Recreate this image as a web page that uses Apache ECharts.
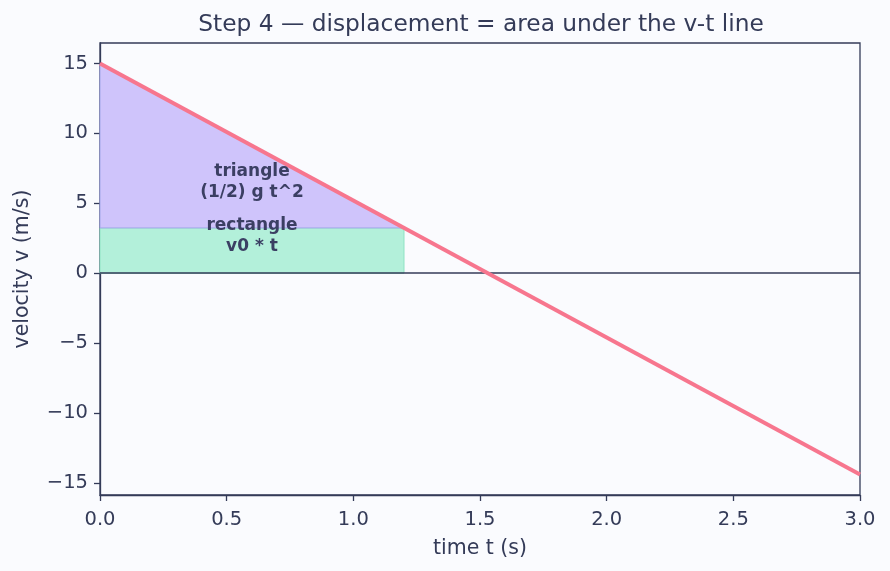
<!DOCTYPE html>
<html>
<head>
<meta charset="utf-8">
<script src="https://cdn.jsdelivr.net/npm/echarts@6/dist/echarts.min.js"></script>
<style>
  html, body { margin: 0; padding: 0; background: #fafbfe; }
  #chart { width: 890px; height: 571px; }
</style>
</head>
<body>
<div id="chart"></div>
<script>
// v-t line: v = v0 - g t
var lineT = [0, 3];
var lineV = [15, -14.4];
// area split at t = 1.2
var triangleT = [0, 1.2, 0];
var triangleV = [15, 3.24, 3.24];
var rectT = [0, 1.2, 1.2, 0];
var rectV = [0, 0, 3.24, 3.24];
var yTicks = [-15, -10, -5, 0, 5, 10, 15];
var labels = [
    { t: 0.6, v: 6.5, text: 'triangle\n(1/2) g t^2' },
    { t: 0.6, v: 2.65, text: 'rectangle\nv0 * t' }
];

var ink = '#343b58';
var font = 'DejaVu Sans';

function polySeries(ts, vs, fill, edge, z) {
    return {
        type: 'custom',
        z: z,
        silent: true,
        data: [0],
        renderItem: function (params, api) {
            var pts = ts.map(function (t, i) { return api.coord([t, vs[i]]); });
            return {
                type: 'polygon',
                shape: { points: pts },
                style: { fill: fill, stroke: edge, lineWidth: 1 }
            };
        }
    };
}

var chart = echarts.init(document.getElementById('chart'));
chart.setOption({
    backgroundColor: '#fafbfe',
    animation: false,
    title: {
        text: 'Step 4 \u2014 displacement = area under the v-t line',
        left: 476, top: 8, textAlign: 'center',
        textStyle: { fontFamily: font, fontSize: 23.3, fontWeight: 'normal', color: ink }
    },
    grid: {
        left: 100, right: 30, top: 43, bottom: 76,
        show: true, borderColor: ink, borderWidth: 1.3, backgroundColor: 'transparent'
    },
    xAxis: {
        type: 'value', min: 0, max: 3, interval: 0.5,
        name: 'time t (s)', nameLocation: 'middle', nameGap: 43,
        nameTextStyle: { fontFamily: font, fontSize: 20.5, color: ink },
        axisLine: { onZero: false, lineStyle: { color: ink, width: 1.3 } },
        axisTick: { show: true, length: 6, lineStyle: { color: ink, width: 1.3 } },
        axisLabel: {
            fontFamily: font, fontSize: 19.5, color: ink, margin: 15,
            formatter: function (v) { return v.toFixed(1); }
        },
        splitLine: { show: false }
    },
    yAxis: {
        type: 'value', min: -15.87, max: 16.47,
        name: 'velocity v (m/s)', nameLocation: 'middle', nameGap: 67,
        nameTextStyle: { fontFamily: font, fontSize: 20.5, color: ink },
        axisLine: { show: true, onZero: false, lineStyle: { color: ink, width: 1.3 } },
        axisTick: { show: true, length: 6, customValues: yTicks, lineStyle: { color: ink, width: 1.3 } },
        axisLabel: {
            fontFamily: font, fontSize: 19.5, color: ink, margin: 12,
            customValues: yTicks,
            formatter: function (v) { return String(v).replace('-', '\u2212'); }
        },
        splitLine: { show: false }
    },
    series: [
        polySeries(rectT, rectV, '#b3f0da', '#8fe3c4', 1),
        polySeries(triangleT, triangleV, '#cfc4fb', '#a3a7ea', 2),
        {
            type: 'line',
            z: 5,
            data: lineT.map(function (t, i) { return [t, lineV[i]]; }),
            symbol: 'none',
            lineStyle: { color: '#f7768e', width: 4 },
            markLine: {
                silent: true, symbol: 'none', label: { show: false },
                lineStyle: { color: ink, width: 1.5, type: 'solid' },
                data: [{ yAxis: 0 }]
            }
        },
        {
            type: 'custom',
            z: 6,
            silent: true,
            data: labels.map(function (l) { return [l.t, l.v]; }),
            renderItem: function (params, api) {
                var p = api.coord([api.value(0), api.value(1)]);
                return {
                    type: 'text',
                    x: p[0], y: p[1],
                    style: {
                        text: labels[params.dataIndex].text,
                        fill: '#3b3f63', font: 'bold 17px "DejaVu Sans"',
                        align: 'center', verticalAlign: 'middle', lineHeight: 21
                    }
                };
            }
        }
    ]
});
</script>
</body>
</html>
